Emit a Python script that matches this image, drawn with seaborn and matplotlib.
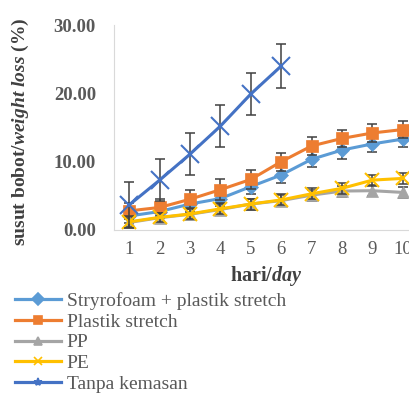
import numpy as np
import pandas as pd
import matplotlib
matplotlib.use("Agg")
import matplotlib.pyplot as plt
import seaborn as sns
from matplotlib.lines import Line2D

days = [1, 2, 3, 4, 5, 6, 7, 8, 9, 10]
day_labels = ["1", "2", "3", "4", "5", "6", "7", "8", "9", "10"]
series_names = ["Stryrofoam + plastik stretch", "Plastik stretch", "PP", "PE", "Tanpa kemasan"]

styro = [2.05, 2.7, 3.8, 4.6, 6.35, 8.05, 10.35, 11.7, 12.6, 13.3]
styro_err = [1.0, 1.0, 1.1, 1.1, 1.1, 1.1, 1.2, 1.3, 1.2, 1.2]
stretch = [2.8, 3.3, 4.5, 5.9, 7.4, 10.0, 12.3, 13.4, 14.2, 14.7]
stretch_err = [1.2, 1.2, 1.4, 1.5, 1.4, 1.3, 1.3, 1.2, 1.3, 1.3]
pp = [1.1, 1.8, 2.3, 3.0, 3.8, 4.3, 5.1, 5.7, 5.75, 5.5]
pp_err = [0.8, 0.7, 0.8, 0.8, 0.8, 0.8, 0.8, 0.8, 0.8, 0.8]
pe = [1.2, 1.85, 2.35, 3.1, 3.8, 4.4, 5.3, 6.1, 7.3, 7.55]
pe_err = [0.8, 0.7, 0.8, 0.8, 0.8, 0.8, 0.8, 0.8, 0.8, 0.8]
tanpa = [3.66, 7.3, 11.1, 15.2, 19.9, 24.0, np.nan, np.nan, np.nan, np.nan]
tanpa_err = [3.4, 3.1, 3.1, 3.05, 3.1, 3.15, np.nan, np.nan, np.nan, np.nan]

colors = ["#5B9BD5", "#ED7D31", "#A5A5A5", "#FFC000", "#4472C4"]
markers = ["D", "s", "^", "x", "x"]
msizes = [7, 9, 9, 10, 13]
legend_markers = ["D", "s", "^", "x", "*"]

plt.rcParams["font.family"] = ["Liberation Serif", "DejaVu Serif"]
plt.rcParams["mathtext.fontset"] = "custom"
plt.rcParams["mathtext.it"] = "Liberation Serif:italic:bold"
plt.rcParams["mathtext.rm"] = "Liberation Serif:bold"

fig = plt.figure(figsize=(4.09, 3.95), dpi=100)
ax = fig.add_axes([114 / 409, (395 - 230) / 395, (418 - 114) / 409, (230 - 25) / 395])

all_vals = [styro, stretch, pp, pe, tanpa]
all_errs = [styro_err, stretch_err, pp_err, pe_err, tanpa_err]

rows = []
for name, vals in zip(series_names, all_vals):
    for d, v in zip(days, vals):
        rows.append({"day": d, "value": v, "series": name})
df = pd.DataFrame(rows)

for i, name in enumerate(series_names):
    sub = df[df["series"] == name]
    sns.lineplot(data=sub, x="day", y="value", ax=ax, color=colors[i], linewidth=2.2,
                 marker=markers[i], markersize=msizes[i], markeredgecolor=colors[i],
                 markeredgewidth=1.5 if markers[i] == "x" else 0.5, legend=False, zorder=3 + i)
    ax.errorbar(days, all_vals[i], yerr=all_errs[i], fmt="none", ecolor="#404040",
                elinewidth=1.1, capsize=3.5, capthick=1.1, zorder=2 + i)

ax.set_xlim(0.5, 10.5)
ax.set_ylim(0, 30)
ax.set_xticks(days)
ax.set_xticklabels(day_labels)
ax.set_yticks([0, 10, 20, 30])
ax.set_yticklabels(["0.00", "10.00", "20.00", "30.00"])
ax.tick_params(axis="both", length=0, labelsize=13.5, labelcolor="#595959")
ax.tick_params(axis="y", pad=13)
ax.tick_params(axis="x", pad=8)
for t in ax.get_yticklabels():
    t.set_fontweight("bold")

for s in ["top", "right"]:
    ax.spines[s].set_visible(False)
ax.spines["left"].set_color("#D9D9D9")
ax.spines["bottom"].set_color("#D9D9D9")
ax.set_facecolor("white")

ax.set_ylabel(r"susut bobot/$\mathit{weight\ loss}$ (%)", fontsize=14, fontweight="bold",
              color="#404040")
ax.yaxis.set_label_coords(-0.272, 0.48)
ax.set_xlabel(r"hari/$\mathit{day}$", fontsize=14.5, fontweight="bold", color="#404040")
ax.xaxis.set_label_coords(0.5, -0.165)

handles = [Line2D([0], [0], color=colors[i], linewidth=2.3, marker=legend_markers[i],
                  markersize=6, markeredgecolor=colors[i], markeredgewidth=1.2)
           for i in range(5)]
fig.legend(handles, series_names, loc="upper left", bbox_to_anchor=(15 / 409, 1 - 292 / 395),
           frameon=False, fontsize=14, handlelength=2.35, labelspacing=0.16,
           handletextpad=0.3, borderaxespad=0, borderpad=0, labelcolor="#595959")

fig.savefig("out.png", dpi=100)
